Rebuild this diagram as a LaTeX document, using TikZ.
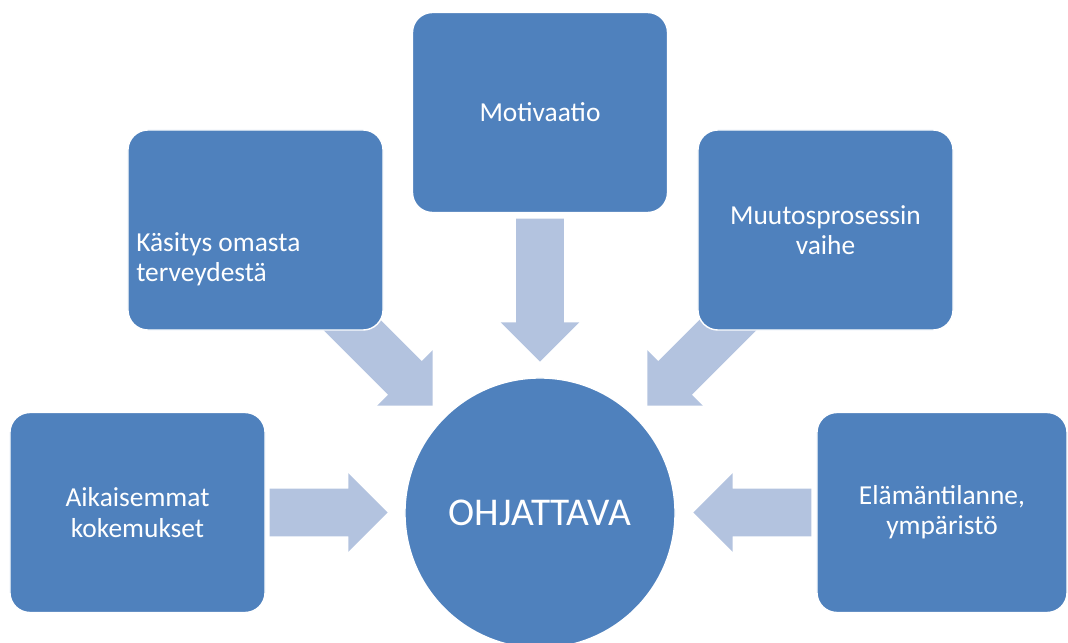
\documentclass[tikz,border=0pt]{standalone}
\usepackage{fontspec}
\setmainfont{Carlito}
\usetikzlibrary{shapes.arrows}
\definecolor{boxblue}{HTML}{4F81BD}
\definecolor{arrowblue}{HTML}{B3C3DF}
\tikzset{
	box/.style={fill=boxblue,draw=white,line width=1pt,rounded corners=0.5cm,minimum width=6.375cm,minimum height=5cm,text=white,font=\fontsize{19.5}{21.5}\selectfont,align=center},
	bigarrow/.style={single arrow,fill=arrowblue,inner xsep=0pt,inner ysep=0.5875cm,minimum width=1.95cm,single arrow head extend=0.3875cm,minimum height=3.575cm,anchor=tip}
}
\begin{document}
\begin{tikzpicture}[x=0.025cm,y=-0.025cm]
		\useasboundingbox (0,0) rectangle (1068,643);
		
		\node[bigarrow,rotate=-90] (a1) at (540,362){};
		\node[bigarrow,rotate=-45] (a2) at (433,406){};
		\node[bigarrow,rotate=-135] (a3) at (647,406){};
		\node[bigarrow,minimum height=2.95cm] (a4) at (388,512.5){};
		\node[bigarrow,minimum height=2.95cm,rotate=180] (a5) at (693,512.5){};
		
		\node[box] (b1) at (540,112.5){Motivaatio};
		\node[box] (b2) at (255.5,230){};
		\node[box] (b3) at (825.5,230){Muutosprosessin\\vaihe};
		\node[box] (b4) at (137.5,512.5){Aikaisemmat\\kokemukset};
		\node[box,minimum width=6.25cm] (b5) at (942,512.5){Elämäntilanne,\\ympäristö};
		\node[anchor=west,inner sep=0pt,text=white,font=\fontsize{19.5}{21.5}\selectfont,align=left] (t2) at (136,259){Käsitys omasta\\terveydestä};
		
		\node[circle,fill=boxblue,draw=white,line width=1pt,minimum size=6.75cm,text=white,font=\fontsize{28}{30}\selectfont] (c) at (540,513){OHJATTAVA};
		\end{tikzpicture}
\end{document}
